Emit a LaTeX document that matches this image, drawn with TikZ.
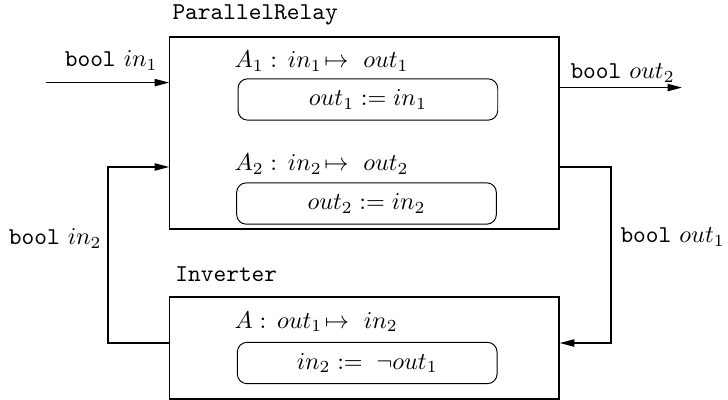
\documentclass[tikz,border=0pt]{standalone}
\usepackage{amsmath,amssymb}
\usetikzlibrary{arrows.meta,positioning,calc}

\begin{document}
\begin{tikzpicture}[>={Triangle[length=6pt,width=3pt]},
  comp/.style={draw,line width=0.55pt,inner sep=0pt},
  act/.style={draw,rounded corners=4pt,minimum width=3.77cm,minimum height=0.6cm,inner sep=0pt},
  lbl/.style={inner sep=0pt},
  wire/.style={line width=0.55pt}]
\useasboundingbox (0,0) rectangle (10.567,5.806);
\node[comp,minimum width=5.65cm,minimum height=2.787cm] (pr) at (5.29,3.876) {};
\node[comp,minimum width=5.65cm,minimum height=1.48cm] (inv) at (5.29,0.755) {};
\node[lbl,anchor=base west] (prname) at (2.497,5.516) {\texttt{ParallelRelay}};
\node[lbl,anchor=base west] (invname) at (2.540,1.713) {\texttt{Inverter}};
\node[lbl,anchor=base west] (a1) at (3.40,4.819) {$A_1 :\, in_1 \!\mapsto\ out_1$};
\node[act] (a1body) at (5.34,4.362) {$out_1 := in_1$};
\node[lbl,anchor=base west] (a2) at (3.40,3.324) {$A_2 :\, in_2 \!\mapsto\ out_2$};
\node[act] (a2body) at (5.32,2.852) {$out_2 := in_2$};
\node[lbl,anchor=base west] (a3) at (3.40,1.045) {$A :\, out_1 \!\mapsto\ in_2$};
\node[act] (a3body) at (5.33,0.537) {$in_2 :=\; \neg out_1$};
% ports
\coordinate (in1) at (0.668,4.607);
\coordinate (out2) at (9.90,4.535);
\coordinate (out1c) at (8.869,3.382);\coordinate (out1d) at (8.869,0.827);
\coordinate (in2c) at (1.568,0.827);\coordinate (in2d) at (1.568,3.382);
\draw[wire,->] (in1) -- (in1 -| pr.west);
\draw[wire,->] (out2 -| pr.east) -- (out2);
\draw[wire,->] (out1c -| pr.east) -- (out1c) -- (out1d) -- (out1d -| inv.east);
\draw[wire,->] (in2c -| inv.west) -- (in2c) -- (in2d) -- (in2d -| pr.west);
\node[lbl,anchor=base east] (lin1) at (2.293,4.834) {\texttt{bool} $in_1$};
\node[lbl,anchor=base west] (lout2) at (8.274,4.660) {\texttt{bool} $out_2$};
\node[lbl,anchor=base east] (lin2) at (1.481,2.250) {\texttt{bool} $in_2$};
\node[lbl,anchor=base west] (lout1) at (9.0,2.279) {\texttt{bool} $out_1$};
\end{tikzpicture}
\end{document}
